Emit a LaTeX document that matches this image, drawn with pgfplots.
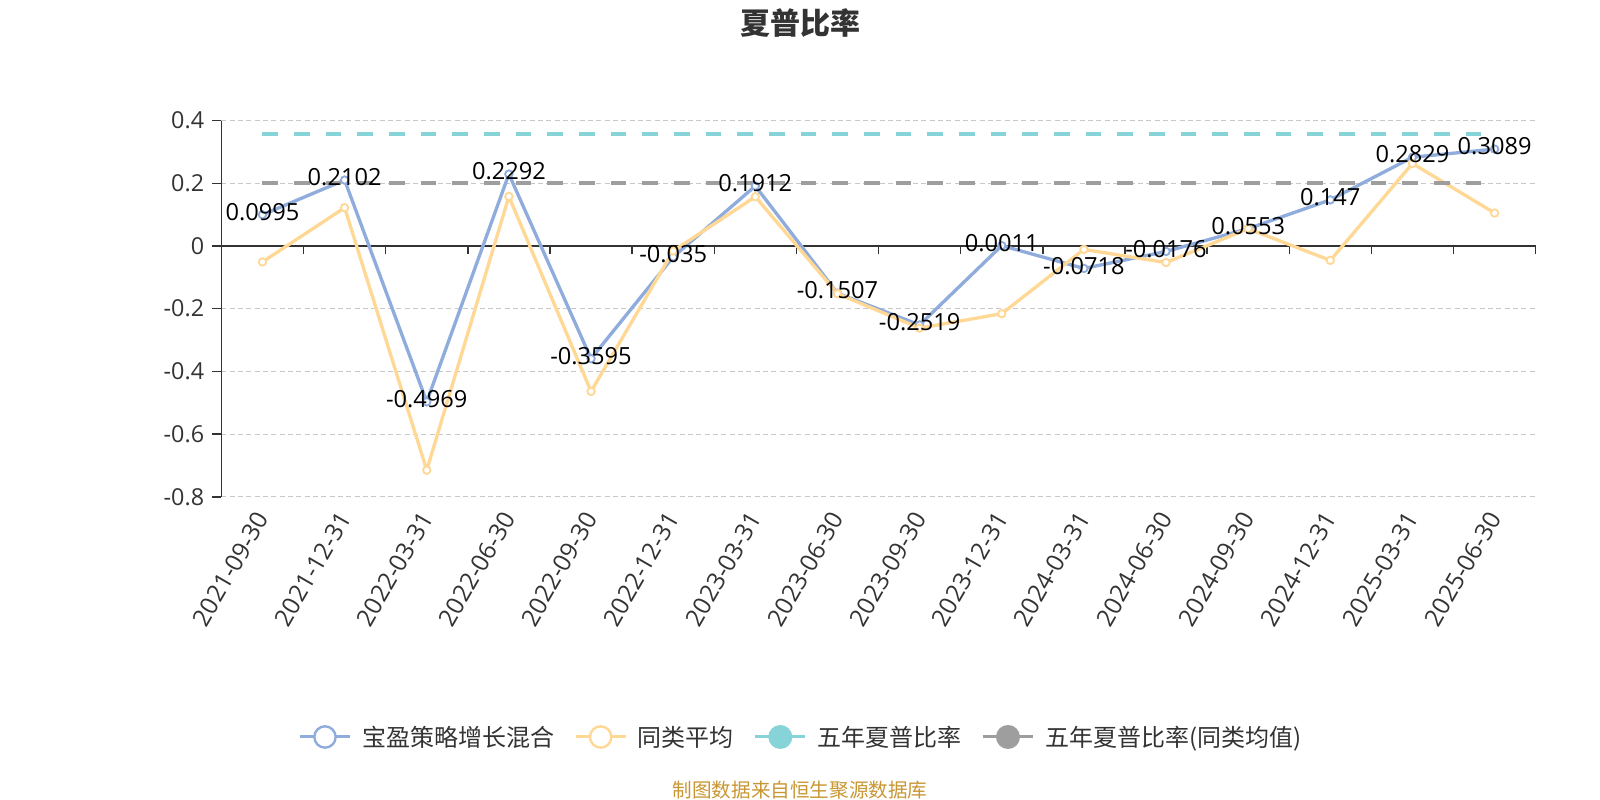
\documentclass[border=0pt]{standalone}
\usepackage{fontspec}
\usepackage{pgfplots}
\usepackage{pgfplotstable}
\pgfplotsset{compat=1.18}
\setmainfont{Open Sans}
\newfontfamily\cjk{Noto Sans CJK SC}

\definecolor{fundblue}{RGB}{143,172,220}
\definecolor{avgyellow}{RGB}{255,216,150}
\definecolor{fivecyan}{RGB}{134,212,216}
\definecolor{fivegray}{RGB}{158,158,158}
\definecolor{axisgray}{RGB}{51,51,51}
\definecolor{gridgray}{RGB}{200,200,200}
\definecolor{srcgold}{RGB}{200,150,50}

% fund sharpe ratio, quarterly
\pgfplotstableread{
x y label
0 0.0995 0.0995
1 0.2102 0.2102
2 -0.4969 -0.4969
3 0.2292 0.2292
4 -0.3595 -0.3595
5 -0.035 -0.035
6 0.1912 0.1912
7 -0.1507 -0.1507
8 -0.2519 -0.2519
9 0.0011 0.0011
10 -0.0718 -0.0718
11 -0.0176 -0.0176
12 0.0553 0.0553
13 0.147 0.147
14 0.2829 0.2829
15 0.3089 0.3089
}\fundtable

% peer average
\pgfplotstableread{
x y
0 -0.051
1 0.122
2 -0.715
3 0.158
4 -0.464
5 -0.016
6 0.157
7 -0.152
8 -0.262
9 -0.216
10 -0.011
11 -0.053
12 0.055
13 -0.046
14 0.263
15 0.105
}\avgtable

\begin{document}
\begin{tikzpicture}
\useasboundingbox (-166.05pt,-227.4pt) rectangle (1033.95pt,372.6pt);
\begin{axis}[
  at={(0pt,0pt)}, anchor=south west,
  scale only axis,
  width=985.7pt, height=282.2pt,
  xmin=-0.5, xmax=15.5, ymin=-0.8, ymax=0.4,
  clip=false,
  axis x line*=bottom, axis y line*=left,
  x axis line style={draw=none},
  y axis line style={axisgray, line width=1.1pt},
  xtick={0,...,15},
  xticklabels={2021-09-30,2021-12-31,2022-03-31,2022-06-30,2022-09-30,2022-12-31,
    2023-03-31,2023-06-30,2023-09-30,2023-12-31,2024-03-31,2024-06-30,
    2024-09-30,2024-12-31,2025-03-31,2025-06-30},
  ytick={-0.8,-0.6,-0.4,-0.2,0,0.2,0.4},
  yticklabels={-0.8,-0.6,-0.4,-0.2,0,0.2,0.4},
  tick align=outside,
  major tick length=6.75pt,
  major x tick style={draw=none},
  major y tick style={axisgray, line width=1.1pt},
  ymajorgrids,
  major grid style={gridgray, line width=0.8pt, dash pattern=on 3.75pt off 2.5pt},
  xticklabel style={rotate=60, anchor=east, inner sep=0pt,
    font=\fontsize{18.2}{20}\selectfont, text=axisgray},
  xticklabel shift=6pt,
  yticklabel style={inner sep=0pt, font=\fontsize{17.5}{20}\selectfont, text=axisgray},
  yticklabel shift=6pt,
  legend columns=4,
  legend cell align=left,
  legend style={at={(0.4402,-0.6383)}, anchor=center, draw=none, fill=none,
    font=\cjk\fontsize{18}{22}\selectfont, text=axisgray,
    nodes={inner sep=0pt},
    /tikz/every odd column/.append style={column sep=8pt},
    /tikz/every even column/.append style={column sep=15pt}},
]
% zero line with category ticks
\addplot[forget plot, axisgray, line width=1.1pt] coordinates {(-0.5,0) (15.5,0)};
\addplot[forget plot, ycomb, axisgray, line width=1.1pt, mark=none] coordinates {
  (0.5,-0.0266) (1.5,-0.0266) (2.5,-0.0266) (3.5,-0.0266) (4.5,-0.0266) (5.5,-0.0266)
  (6.5,-0.0266) (7.5,-0.0266) (8.5,-0.0266) (9.5,-0.0266) (10.5,-0.0266) (11.5,-0.0266)
  (12.5,-0.0266) (13.5,-0.0266) (14.5,-0.0266) (15.5,-0.0266)};

\addplot[fundblue, line width=2.5pt, mark=*, mark size=2.8pt,
  mark options={solid, fill=white, draw=fundblue, line width=1.4pt},
  legend image code/.code={
    \draw[solid, fundblue, line width=2.25pt] (0pt,0pt) -- (37.5pt,0pt);
    \draw[solid, fundblue, line width=1.8pt, fill=white] (18.75pt,0pt) circle (8pt);}
] table[x=x, y=y] {\fundtable};
\addlegendentry{宝盈策略增长混合}

\addplot[avgyellow, line width=2.5pt, mark=*, mark size=2.8pt,
  mark options={solid, fill=white, draw=avgyellow, line width=1.4pt},
  legend image code/.code={
    \draw[solid, avgyellow, line width=2.25pt] (0pt,0pt) -- (37.5pt,0pt);
    \draw[solid, avgyellow, line width=1.8pt, fill=white] (18.75pt,0pt) circle (8pt);}
] table[x=x, y=y] {\avgtable};
\addlegendentry{同类平均}

\addplot[fivecyan, line width=3pt, dash pattern=on 11.75pt off 12pt,
  legend image code/.code={
    \draw[solid, fivecyan, line width=2.25pt] (0pt,0pt) -- (37.5pt,0pt);
    \path[solid, draw=none, fill=fivecyan] (18.75pt,0pt) circle (9pt);}
] coordinates {(0,0.357) (15,0.357)};
\addlegendentry{五年夏普比率}

\addplot[fivegray, line width=3pt, dash pattern=on 11.75pt off 12pt,
  legend image code/.code={
    \draw[solid, fivegray, line width=2.25pt] (0pt,0pt) -- (37.5pt,0pt);
    \path[solid, draw=none, fill=fivegray] (18.75pt,0pt) circle (9pt);}
] coordinates {(0,0.2) (15,0.2)};
\addlegendentry{五年夏普比率(同类均值)}

% value labels on top of everything
\addplot[forget plot, draw=none, mark=none,
  point meta=explicit symbolic,
  nodes near coords, nodes near coords align={center},
  every node near coord/.append style={anchor=center, yshift=2pt, inner sep=0pt,
    font=\fontsize{17.7}{20}\selectfont, text=black}
] table[x=x, y=y, meta=label] {\fundtable};
\end{axis}
\node[font=\cjk\bfseries\fontsize{22.5}{26}\selectfont, text=axisgray] at (433.95pt,355.35pt) {夏普比率};
\node[font=\cjk\fontsize{14.7}{17}\selectfont, text=srcgold] at (433.95pt,-219.9pt) {制图数据来自恒生聚源数据库};
\end{tikzpicture}
\end{document}
